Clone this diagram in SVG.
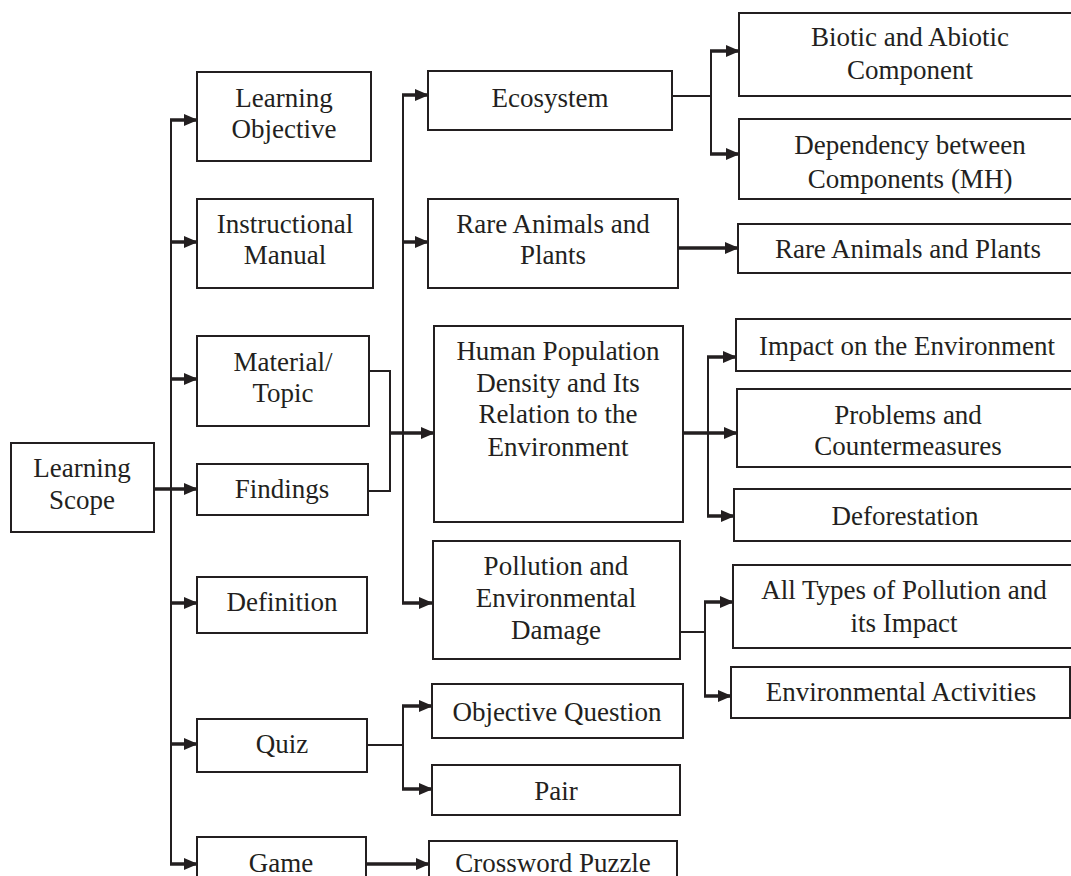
<svg xmlns="http://www.w3.org/2000/svg" width="1071" height="876" viewBox="0 0 1071 876">
<style>
.box{fill:#fff;stroke:#231f20;stroke-width:2}
.t{font-family:"Liberation Serif","Times New Roman",serif;font-size:27px;fill:#231f20;text-anchor:middle}
.c{fill:none;stroke:#231f20;stroke-width:2}
.a{fill:none;stroke:#231f20;stroke-width:3.5;marker-end:url(#ah)}
</style>
<defs>
<marker id="ah" markerUnits="userSpaceOnUse" markerWidth="14" markerHeight="13" refX="14" refY="6.5" orient="auto">
<path d="M0,0.5 L14,6.5 L0,12.5 z" fill="#231f20"/>
</marker>
</defs>
<rect width="1071" height="876" fill="#fff"/>
<g id="connectors">
<line class="c" x1="171" y1="119" x2="171" y2="865"/>
<line class="a" x1="170" y1="120" x2="198" y2="120"/>
<line class="a" x1="170" y1="242" x2="198" y2="242"/>
<line class="a" x1="170" y1="379" x2="198" y2="379"/>
<line class="a" x1="154" y1="489" x2="198" y2="489"/>
<line class="a" x1="170" y1="603" x2="198" y2="603"/>
<line class="a" x1="170" y1="744" x2="198" y2="744"/>
<line class="a" x1="170" y1="864" x2="198" y2="864"/>
<polyline class="c" points="369,371 390,371 390,491 368,491"/>
<line class="a" x1="389" y1="433" x2="435" y2="433"/>
<line class="c" x1="403" y1="94" x2="403" y2="604"/>
<line class="a" x1="402" y1="95" x2="429" y2="95"/>
<line class="a" x1="402" y1="242" x2="429" y2="242"/>
<line class="a" x1="402" y1="603" x2="433" y2="603"/>
<polyline class="c" points="672,96 711,96"/>
<line class="c" x1="711" y1="50" x2="711" y2="155"/>
<line class="a" x1="710" y1="51" x2="740" y2="51"/>
<line class="a" x1="710" y1="154" x2="740" y2="154"/>
<line class="a" x1="678" y1="248" x2="739" y2="248"/>
<line class="a" x1="683" y1="433" x2="738" y2="433"/>
<line class="c" x1="708" y1="356" x2="708" y2="517"/>
<line class="a" x1="707" y1="357" x2="737" y2="357"/>
<line class="a" x1="707" y1="516" x2="735" y2="516"/>
<polyline class="c" points="680,632 705,632"/>
<line class="c" x1="705" y1="601" x2="705" y2="697"/>
<line class="a" x1="704" y1="602" x2="734" y2="602"/>
<line class="a" x1="704" y1="696" x2="732" y2="696"/>
<polyline class="c" points="367,745 403,745"/>
<line class="c" x1="403" y1="705" x2="403" y2="790"/>
<line class="a" x1="402" y1="706" x2="433" y2="706"/>
<line class="a" x1="402" y1="789" x2="433" y2="789"/>
<line class="a" x1="366" y1="864" x2="430" y2="864"/>
</g>
<g id="learning-scope"><rect class="box" x="11" y="443" width="143" height="89"/><text class="t" x="82" y="477">Learning</text><text class="t" x="82" y="509">Scope</text></g>
<g id="learning-objective"><rect class="box" x="197" y="72" width="174" height="89"/><text class="t" x="284" y="107">Learning</text><text class="t" x="284" y="138">Objective</text></g>
<g id="instructional-manual"><rect class="box" x="197" y="199" width="176" height="89"/><text class="t" x="285" y="233">Instructional</text><text class="t" x="285" y="264">Manual</text></g>
<g id="material-topic"><rect class="box" x="197" y="336" width="172" height="90"/><text class="t" x="283" y="371">Material/</text><text class="t" x="283" y="402">Topic</text></g>
<g id="findings"><rect class="box" x="197" y="464" width="171" height="51"/><text class="t" x="282" y="498">Findings</text></g>
<g id="definition"><rect class="box" x="197" y="577" width="170" height="56"/><text class="t" x="282" y="611">Definition</text></g>
<g id="quiz"><rect class="box" x="197" y="719" width="170" height="53"/><text class="t" x="282" y="753">Quiz</text></g>
<g id="game"><rect class="box" x="197" y="837" width="169" height="60"/><text class="t" x="281" y="872">Game</text></g>
<g id="ecosystem"><rect class="box" x="428" y="71" width="244" height="59"/><text class="t" x="550" y="107">Ecosystem</text></g>
<g id="rare-animals"><rect class="box" x="428" y="199" width="250" height="89"/><text class="t" x="553" y="233">Rare Animals and</text><text class="t" x="553" y="264">Plants</text></g>
<g id="human-population"><rect class="box" x="434" y="326" width="249" height="196"/><text class="t" x="558" y="360">Human Population</text><text class="t" x="558" y="392">Density and Its</text><text class="t" x="558" y="423">Relation to the</text><text class="t" x="558" y="456">Environment</text></g>
<g id="pollution"><rect class="box" x="433" y="541" width="247" height="118"/><text class="t" x="556" y="575">Pollution and</text><text class="t" x="556" y="607">Environmental</text><text class="t" x="556" y="639">Damage</text></g>
<g id="objective-question"><rect class="box" x="432" y="684" width="251" height="54"/><text class="t" x="557" y="721">Objective Question</text></g>
<g id="pair"><rect class="box" x="432" y="765" width="248" height="50"/><text class="t" x="556" y="800">Pair</text></g>
<g id="crossword"><rect class="box" x="429" y="841" width="248" height="60"/><text class="t" x="553" y="872">Crossword Puzzle</text></g>
<g id="biotic"><rect class="box" x="739" y="13" width="340" height="83"/><text class="t" x="910" y="46">Biotic and Abiotic</text><text class="t" x="910" y="79">Component</text></g>
<g id="dependency"><rect class="box" x="739" y="119" width="340" height="80"/><text class="t" x="910" y="154">Dependency between</text><text class="t" x="910" y="188">Components (MH)</text></g>
<g id="rare-animals-2"><rect class="box" x="738" y="224" width="340" height="49"/><text class="t" x="908" y="258">Rare Animals and Plants</text></g>
<g id="impact"><rect class="box" x="736" y="319" width="340" height="52"/><text class="t" x="907" y="355">Impact on the Environment</text></g>
<g id="problems"><rect class="box" x="737" y="389" width="340" height="78"/><text class="t" x="908" y="424">Problems and</text><text class="t" x="908" y="455">Countermeasures</text></g>
<g id="deforestation"><rect class="box" x="734" y="489" width="340" height="52"/><text class="t" x="905" y="525">Deforestation</text></g>
<g id="all-types"><rect class="box" x="733" y="565" width="340" height="83"/><text class="t" x="904" y="599">All Types of Pollution and</text><text class="t" x="904" y="632">its Impact</text></g>
<g id="env-activities"><rect class="box" x="731" y="667" width="339" height="51"/><text class="t" x="901" y="701">Environmental Activities</text></g>
</svg>
